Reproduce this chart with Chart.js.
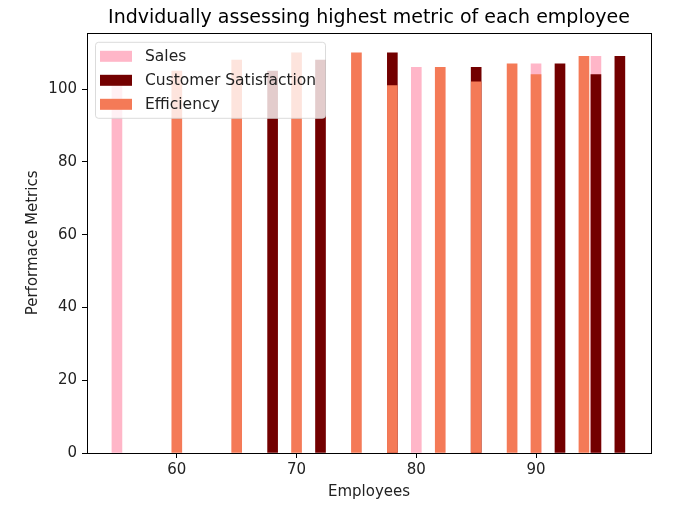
<!DOCTYPE html>
<html lang="en">
<head>
  <meta charset="UTF-8" />
  <title>Employee metrics</title>
  <style>
    body { margin: 0; background: #fff; }
    #wrap { width: 700px; height: 510px; }
  </style>
</head>
<body>
  <div id="wrap"><canvas id="chart" width="700" height="510"></canvas></div>

  <script src="https://cdn.jsdelivr.net/npm/chart.js"></script>
  <script>
    // employee ids on the x axis
    const employees = [55, 60, 65, 68, 70, 72, 75, 78, 80, 82, 85, 88, 90, 92, 94, 95, 97];
    // only the visible bar tops; null = nothing shown for that metric
    const sales        = [101, null, null, null, null, null, null, null, 106, null, null, null, 107, null, null, 109, null];
    const satisfaction = [null, null, null, 105, null, 108, null, 110, null, null, 106, null, null, 107, null, 104, 109];
    const efficiency   = [null, 105, 108, null, 110, null, 110, 101, null, 106, 102, 107, 104, null, 109, null, null];

    const xTicks = [60, 70, 80, 90];
    const yTicks = [0, 20, 40, 60, 80, 100];

    const toPoints = arr => employees.map((e, i) => ({ x: e, y: arr[i] })).filter(p => p.y !== null);

    const FONT = "'DejaVu Sans', sans-serif";

    // legend box inside the plot, drawn over the bars like matplotlib
    const innerLegend = {
      id: 'innerLegend',
      afterDatasetsDraw(chart) {
        const ctx = chart.ctx;
        const a = chart.chartArea;
        const x0 = a.left + 8, y0 = a.top + 9;
        ctx.save();
        ctx.fillStyle = 'rgba(255,255,255,0.8)';
        ctx.strokeStyle = 'rgba(210,210,210,0.8)';
        ctx.lineWidth = 1;
        ctx.beginPath();
        ctx.roundRect(x0 + 0.5, y0 + 0.5, 230, 76, 3);
        ctx.fill();
        ctx.stroke();
        ctx.font = '15.5px ' + FONT;
        ctx.textBaseline = 'middle';
        chart.data.datasets.forEach((ds, i) => {
          const cy = y0 + 15 + i * 24;
          ctx.fillStyle = ds.backgroundColor;
          ctx.fillRect(x0 + 5, cy - 6, 32, 11);
          ctx.fillStyle = '#222';
          ctx.fillText(ds.label, x0 + 50, cy);
        });
        // frame around the axes
        ctx.strokeStyle = '#000';
        ctx.lineWidth = 1;
        ctx.strokeRect(Math.round(a.left) + 0.5, Math.round(a.top) + 0.5,
                       Math.round(a.right - a.left), Math.round(a.bottom - a.top));
        ctx.restore();
      }
    };

    new Chart(document.getElementById('chart'), {
      type: 'bar',
      data: {
        datasets: [
          { label: 'Sales', data: toPoints(sales), backgroundColor: '#FFB6C8', order: 2 },
          { label: 'Customer Satisfaction', data: toPoints(satisfaction), backgroundColor: '#730000', order: 1 },
          { label: 'Efficiency', data: toPoints(efficiency), backgroundColor: '#F47A57', order: 0 }
        ]
      },
      options: {
        responsive: false,
        animation: false,
        events: [],
        layout: { padding: { left: 20, right: 49, top: 0, bottom: 5 } },
        datasets: { bar: { barThickness: 10, grouped: false } },
        plugins: {
          legend: { display: false },
          tooltip: { enabled: false },
          title: {
            display: true,
            fullSize: false,
            text: 'Indvidually assessing highest metric of each employee',
            color: '#000',
            font: { family: FONT, size: 19, weight: 'normal' },
            padding: { top: 7, bottom: 3 }
          }
        },
        scales: {
          x: {
            type: 'linear',
            offset: false,
            min: 52.5,
            max: 99.6,
            afterBuildTicks: s => { s.ticks = xTicks.map(v => ({ value: v })); },
            afterFit: s => { s.height = 52; },
            grid: { offset: false, drawOnChartArea: false, drawTicks: true, tickLength: 5, color: '#000' },
            border: { display: false },
            ticks: { color: '#222', font: { family: FONT, size: 15 }, padding: 3, maxRotation: 0 },
            title: { display: true, text: 'Employees', color: '#222', font: { family: FONT, size: 15 }, padding: { top: 5 } }
          },
          y: {
            min: 0,
            max: 115.5,
            afterBuildTicks: s => { s.ticks = yTicks.map(v => ({ value: v })); },
            afterFit: s => { s.width = 67; },
            grid: { drawOnChartArea: false, drawTicks: true, tickLength: 5, color: '#000' },
            border: { display: false },
            ticks: { color: '#222', font: { family: FONT, size: 15 }, padding: 5 },
            title: { display: true, text: 'Performace Metrics', color: '#222', font: { family: FONT, size: 15 }, padding: { bottom: 6 } }
          }
        }
      },
      plugins: [innerLegend]
    });
  </script>
</body>
</html>
